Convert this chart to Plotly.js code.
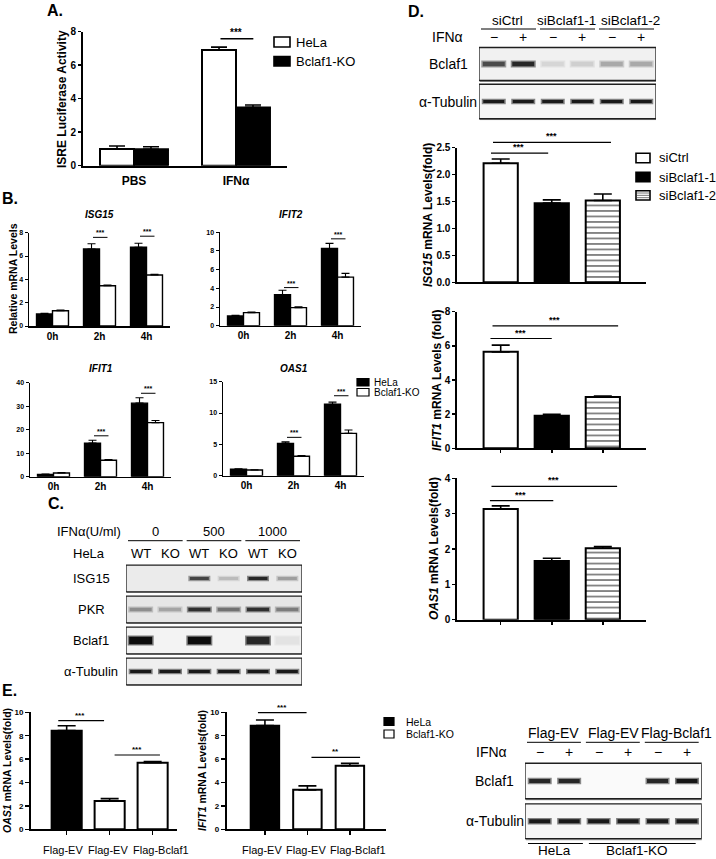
<!DOCTYPE html>
<html>
<head>
<meta charset="utf-8">
<script src="https://cdn.plot.ly/plotly-3.0.1.min.js"></script>
<style>
html,body{margin:0;padding:0;background:#ffffff;}
#fig{width:716px;height:859px;}
</style>
</head>
<body>
<div id="fig"></div>
<script>
// ===================== DATA =====================
// A. ISRE luciferase activity
const aConditions = ['PBS', 'IFNα'];
const aSeries = ['HeLa', 'Bclaf1-KO'];
const aHeLa = [1.0, 6.9];
const aHeLaErr = [0.18, 0.18];
const aKO = [0.98, 3.48];
const aKOErr = [0.15, 0.14];
const aTicks = [0, 2, 4, 6, 8];
const aSig = [{x0: 0.833, x1: 1.17, y: 7.58, label: '***'}];

// B. Relative mRNA levels over time
const bTimes = ['0h', '2h', '4h'];
const bSeries = ['HeLa', 'Bclaf1-KO'];
const bISG15_HeLa = [1.03, 6.6, 6.75];
const bISG15_HeLaErr = [0.05, 0.45, 0.35];
const bISG15_KO = [1.31, 3.45, 4.37];
const bISG15_KOErr = [0.06, 0.07, 0.06];
const bIFIT2_HeLa = [1.05, 3.32, 8.27];
const bIFIT2_HeLaErr = [0.05, 0.48, 0.55];
const bIFIT2_KO = [1.4, 1.93, 5.2];
const bIFIT2_KOErr = [0.07, 0.09, 0.4];
const bIFIT1_HeLa = [1.0, 14.3, 31.3];
const bIFIT1_HeLaErr = [0.1, 1.2, 2.3];
const bIFIT1_KO = [1.6, 7.0, 23.0];
const bIFIT1_KOErr = [0.15, 0.3, 0.9];
const bOAS1_HeLa = [1.05, 5.15, 11.4];
const bOAS1_HeLaErr = [0.05, 0.25, 0.35];
const bOAS1_KO = [0.9, 3.1, 6.75];
const bOAS1_KOErr = [0.03, 0.12, 0.55];
const bISG15_Ticks = [0, 2, 4, 6, 8];
const bIFIT2_Ticks = [0, 2, 4, 6, 8, 10];
const bIFIT1_Ticks = [0, 10, 20, 30, 40];
const bOAS1_Ticks = [0, 5, 10, 15];
const bISG15_Sig = [{cat: 1, y: 7.6, label: '***'}, {cat: 2, y: 7.7, label: '***'}];
const bIFIT2_Sig = [{cat: 1, y: 4.08, label: '***'}, {cat: 2, y: 9.3, label: '***'}];
const bIFIT1_Sig = [{cat: 1, y: 17.4, label: '***'}, {cat: 2, y: 35.5, label: '***'}];
const bOAS1_Sig = [{cat: 1, y: 6.12, label: '***'}, {cat: 2, y: 12.76, label: '***'}];

// C. Western blot, HeLa WT / KO with IFNα doses
const cDoseLabel = 'IFNα(U/ml)';
const cDoses = ['0', '500', '1000'];
const cCellLabel = 'HeLa';
const cGenotypes = ['WT', 'KO', 'WT', 'KO', 'WT', 'KO'];
const cProteins = ['ISG15', 'PKR', 'Bclaf1', 'α-Tubulin'];
const cISG15Band = [0, 0, 0.75, 0.22, 0.88, 0.35];
const cPKRBand = [0.42, 0.32, 0.85, 0.55, 0.85, 0.5];
const cBclaf1Band = [1.0, 0, 1.0, 0, 0.88, 0.04];
const cTubulinBand = [0.94, 0.94, 0.94, 0.94, 0.94, 0.94];

// D. siRNA knock-down
const dGroups = ['siCtrl', 'siBclaf1-1', 'siBclaf1-2'];
const dIFN = ['−', '+', '−', '+', '−', '+'];
const dProteins = ['Bclaf1', 'α-Tubulin'];
const dBclaf1Band = [0.72, 0.88, 0.1, 0.13, 0.3, 0.3];
const dTubulinBand = [0.94, 0.94, 0.94, 0.94, 0.94, 0.94];
const dISG15 = [2.21, 1.47, 1.52];
const dISG15Err = [0.08, 0.06, 0.12];
const dIFIT1 = [5.65, 1.9, 3.0];
const dIFIT1Err = [0.39, 0.09, 0.06];
const dOAS1 = [3.13, 1.66, 2.02];
const dOAS1Err = [0.09, 0.08, 0.05];
const dISG15Ticks = [0, 0.5, 1, 1.5, 2, 2.5];
const dIFIT1Ticks = [0, 2, 4, 6, 8];
const dOAS1Ticks = [0, 1, 2, 3, 4];
const dISG15Sig = [{x0: -0.22, x1: 0.93, y: 2.40, label: '***'}, {x0: -0.18, x1: 2.16, y: 2.60, label: '***'}];
const dIFIT1Sig = [{x0: -0.23, x1: 1.0, y: 6.43, label: '***'}, {x0: -0.19, x1: 2.3, y: 7.17, label: '***'}];
const dOAS1Sig = [{x0: -0.24, x1: 1.03, y: 3.37, label: '***'}, {x0: -0.21, x1: 2.28, y: 3.77, label: '***'}];

// E. Rescue
const eConstructs = ['Flag-EV', 'Flag-EV', 'Flag-Bclaf1'];
const eSeries = ['HeLa', 'Bclaf1-KO'];
const eOAS1 = [8.43, 2.42, 5.69];
const eOAS1Err = [0.42, 0.2, 0.09];
const eIFIT1 = [8.86, 3.37, 5.44];
const eIFIT1Err = [0.48, 0.34, 0.2];
const eTicks = [0, 2, 4, 6, 8, 10];
const eOAS1Sig = [{x0: -0.23, x1: 0.87, y: 9.28, label: '***'}, {x0: 1.08, x1: 2.17, y: 6.35, label: '***'}];
const eIFIT1Sig = [{x0: -0.2, x1: 0.98, y: 9.97, label: '***'}, {x0: 1.06, x1: 2.24, y: 6.15, label: '**'}];
const eBlotGroups = ['Flag-EV', 'Flag-EV', 'Flag-Bclaf1'];
const eIFN = ['−', '+', '−', '+', '−', '+'];
const eProteins = ['Bclaf1', 'α-Tubulin'];
const eBclaf1Band = [0.88, 0.88, 0, 0, 0.88, 0.96];
const eTubulinBand = [0.94, 0.94, 0.94, 0.94, 0.94, 0.94];
const eCellLines = ['HeLa', 'Bclaf1-KO'];

// ===================== HELPERS =====================
const FONT = "'Liberation Sans', Arial, Helvetica, sans-serif";
const W = 716, H = 859;
const PX = v => v / W;
const PY = v => 1 - v / H;
const sfx = n => (n === 1 ? '' : String(n));

const traces = [];
const layout = {
  width: W, height: H, autosize: false,
  margin: {l: 0, r: 0, t: 0, b: 0, pad: 0},
  paper_bgcolor: '#ffffff', plot_bgcolor: 'rgba(0,0,0,0)',
  showlegend: false, barmode: 'group',
  font: {family: FONT, color: '#000', size: 12},
  annotations: [], shapes: []
};

function text(x, y, t, size, extra) {
  layout.annotations.push(Object.assign({
    xref: 'paper', yref: 'paper', x: PX(x), y: PY(y), text: t, showarrow: false,
    xanchor: 'center', yanchor: 'middle', font: {family: FONT, size: size, color: '#000'}
  }, extra || {}));
}
function hline(x0, x1, y, w) {
  layout.shapes.push({type: 'line', xref: 'paper', yref: 'paper', x0: PX(x0), x1: PX(x1),
    y0: PY(y), y1: PY(y), line: {color: '#000', width: w || 1}});
}
function rectPx(x0, y0, x1, y1, fill, lw) {
  layout.shapes.push({type: 'rect', xref: 'paper', yref: 'paper', x0: PX(x0), x1: PX(x1),
    y0: PY(y1), y1: PY(y0), fillcolor: fill, line: {color: '#000', width: lw}});
}

function chartAxes(n, xPx, yPx, xRange, yRange, o) {
  const s = sfx(n);
  layout['xaxis' + s] = {
    domain: [PX(xPx[0]), PX(xPx[1])], range: xRange, anchor: 'y' + s, fixedrange: true,
    showline: true, linecolor: '#000', linewidth: o.lw, showgrid: false, zeroline: false,
    tickmode: 'array', tickvals: o.xVals || [], ticktext: o.xText || [], tickangle: 0,
    ticks: o.xTicks ? 'outside' : '', ticklen: o.tl, tickwidth: o.tw, tickcolor: '#000',
    showticklabels: !!o.xText, ticklabelstandoff: o.xStand || 0,
    tickfont: {family: FONT, size: o.xFont || 10, weight: o.xBold === false ? 'normal' : 'bold', color: '#000'}
  };
  layout['yaxis' + s] = {
    domain: [PY(yPx[1]), PY(yPx[0])], range: yRange, anchor: 'x' + s, fixedrange: true,
    showline: true, linecolor: '#000', linewidth: o.lw, showgrid: false, zeroline: false,
    tickmode: 'array', tickvals: o.yVals, ticktext: o.yVals.map(v => o.yFmt ? o.yFmt(v) : String(v)),
    ticks: 'outside', ticklen: o.tl, tickwidth: o.tw, tickcolor: '#000',
    tickfont: {family: FONT, size: o.yFont, weight: 'bold', color: '#000'}
  };
}
// invisible companion axes covering the headroom above a chart (for brackets above the top tick)
function overlayAxes(n, xPx, yBottomPx, yTopPx, yRangeTopPx, xRange, yMax) {
  const s = sfx(n);
  const scale = (yBottomPx - yRangeTopPx) / (yBottomPx - yTopPx);
  layout['xaxis' + s] = {domain: [PX(xPx[0]), PX(xPx[1])], range: xRange, visible: false, anchor: 'y' + s, fixedrange: true};
  layout['yaxis' + s] = {domain: [PY(yBottomPx), PY(yRangeTopPx)], range: [0, yMax * scale], visible: false, anchor: 'x' + s, fixedrange: true};
}

function bars(n, x, y, err, fill, offset, width, lw, capW, pattern) {
  const s = sfx(n);
  const t = {
    type: 'bar', xaxis: 'x' + s, yaxis: 'y' + s, x: x, y: y, offset: offset, width: width,
    marker: {color: fill, line: {color: '#000', width: lw}},
    error_y: {type: 'data', symmetric: false, array: err, arrayminus: err.map(() => 0),
      color: '#000', thickness: Math.max(1, lw * 0.8), width: capW},
    hoverinfo: 'skip', showlegend: false
  };
  if (pattern) t.marker.pattern = pattern;
  traces.push(t);
}

function sig(n, list, fs, lw) {
  const s = sfx(n);
  list.forEach(g => {
    layout.annotations.push({xref: 'x' + s, yref: 'y' + s, axref: 'x' + s, ayref: 'y' + s,
      x: g.x1, y: g.y, ax: g.x0, ay: g.y, text: '', showarrow: true, arrowhead: 0,
      arrowwidth: lw, arrowcolor: '#000', standoff: 0, startstandoff: 0});
    layout.annotations.push({xref: 'x' + s, yref: 'y' + s, x: (g.x0 + g.x1) / 2, y: g.y,
      text: '<b>' + g.label + '</b>', showarrow: false, xanchor: 'center', yanchor: 'bottom',
      yshift: -1, font: {family: FONT, size: fs, color: '#000'}});
  });
}

function blotAxes(n, xPx, yPx, nRows) {
  const s = sfx(n);
  layout['xaxis' + s] = {domain: [PX(xPx[0]), PX(xPx[1])], range: [0.5, 6.5], visible: false,
    anchor: 'y' + s, fixedrange: true, showgrid: false, zeroline: false};
  layout['yaxis' + s] = {domain: [PY(yPx[1]), PY(yPx[0])], range: [nRows - 0.5, -0.5], visible: false,
    anchor: 'x' + s, fixedrange: true, showgrid: false, zeroline: false};
}
function grayCore(v) { const l = Math.round(236 - v * 224); return 'rgb(' + l + ',' + l + ',' + l + ')'; }
function grayHalo(v) { const l = Math.round(238 - v * 115); return 'rgb(' + l + ',' + l + ',' + l + ')'; }
// 'line-ew' marker length is 1.4 x marker.size
const LINE_EW = 1.4;
function blotRow(n, r, vals, bandW, bandT, bg, half) {
  const s = sfx(n);
  // soft shadow on the lower-right edge of the membrane box, then the box itself
  layout.shapes.push({type: 'rect', xref: 'x' + s, yref: 'y' + s, x0: 0.53, x1: 6.53,
    y0: r - half + 0.04, y1: r + half + 0.04, fillcolor: '#9a9a9a', line: {width: 0}, layer: 'below'});
  layout.shapes.push({type: 'rect', xref: 'x' + s, yref: 'y' + s, x0: 0.5, x1: 6.5,
    y0: r - half, y1: r + half, fillcolor: bg, line: {color: '#1e1e1e', width: 1.3}, layer: 'below'});
  const xs = [], ys = [], core = [], halo = [];
  vals.forEach((v, i) => { if (v > 0) { xs.push(i + 1); ys.push(r); core.push(grayCore(v)); halo.push(grayHalo(v)); } });
  traces.push({type: 'scatter', mode: 'markers', xaxis: 'x' + s, yaxis: 'y' + s, x: xs, y: ys,
    marker: {symbol: 'line-ew', size: (bandW + 3) / LINE_EW, color: halo, line: {width: bandT + 2.5, color: halo}},
    hoverinfo: 'skip', showlegend: false});
  traces.push({type: 'scatter', mode: 'markers', xaxis: 'x' + s, yaxis: 'y' + s, x: xs, y: ys,
    marker: {symbol: 'line-ew', size: bandW / LINE_EW, color: core, line: {width: bandT, color: core}},
    hoverinfo: 'skip', showlegend: false});
}

// ===================== PANEL LABELS =====================
text(45, 10, '<b>A.</b>', 16, {xanchor: 'left'});
text(0, 198, '<b>B.</b>', 16, {xanchor: 'left'});
text(46, 504, '<b>C.</b>', 16, {xanchor: 'left'});
text(406, 11, '<b>D.</b>', 16, {xanchor: 'left'});
text(0, 690, '<b>E.</b>', 16, {xanchor: 'left'});

// ===================== PANEL A =====================
chartAxes(1, [83, 287], [31.7, 165.7], [-0.5, 1.5], [0, 8],
  {lw: 2, tl: 3, tw: 1.5, xVals: [0, 1], xText: aConditions, xFont: 12, xStand: 3, yVals: aTicks, yFont: 10});
bars(1, [0, 1], aHeLa, aHeLaErr, '#ffffff', -0.333, 0.333, 2, 8);
bars(1, [0, 1], aKO, aKOErr, '#000000', 0, 0.333, 2, 8);
sig(1, aSig, 10, 1.3);
text(62, 99, '<b>ISRE Luciferase Activity</b>', 12, {textangle: -90});
rectPx(274, 37, 290, 47, '#ffffff', 1.6);
text(294, 42, aSeries[0], 13, {xanchor: 'left'});
rectPx(274, 56.5, 290, 66, '#000000', 1.6);
text(294, 61, aSeries[1], 13, {xanchor: 'left'});

// ===================== PANEL B =====================
const bPanels = [
  {n: 2, x: [29, 170], y: [232.7, 326], max: 8, ticks: bISG15_Ticks, h: bISG15_HeLa, he: bISG15_HeLaErr, k: bISG15_KO, ke: bISG15_KOErr, sig: bISG15_Sig, gene: 'ISG15', ty: 215},
  {n: 3, x: [220, 361], y: [232.3, 325.7], max: 10, ticks: bIFIT2_Ticks, h: bIFIT2_HeLa, he: bIFIT2_HeLaErr, k: bIFIT2_KO, ke: bIFIT2_KOErr, sig: bIFIT2_Sig, gene: 'IFIT2', ty: 215},
  {n: 4, x: [30, 171], y: [382.7, 476.7], max: 40, ticks: bIFIT1_Ticks, h: bIFIT1_HeLa, he: bIFIT1_HeLaErr, k: bIFIT1_KO, ke: bIFIT1_KOErr, sig: bIFIT1_Sig, gene: 'IFIT1', ty: 368},
  {n: 5, x: [223, 364], y: [381.7, 475.7], max: 15, ticks: bOAS1_Ticks, h: bOAS1_HeLa, he: bOAS1_HeLaErr, k: bOAS1_KO, ke: bOAS1_KOErr, sig: bOAS1_Sig, gene: 'OAS1', ty: 368}
];
bPanels.forEach(p => {
  chartAxes(p.n, p.x, p.y, [-0.5, 2.5], [0, p.max],
    {lw: 1.5, tl: 3, tw: 1, xVals: [0, 1, 2], xText: bTimes, xFont: 10, yVals: p.ticks, yFont: 7});
  const xs = bTimes.map((_, i) => i);
  bars(p.n, xs, p.h, p.he, '#000000', -0.34, 0.34, 1.4, 4);
  bars(p.n, xs, p.k, p.ke, '#ffffff', 0, 0.34, 1.4, 4);
  sig(p.n, p.sig.map(g => ({x0: g.cat - 0.17, x1: g.cat + 0.17, y: g.y, label: g.label})), 7, 1);
  text((p.x[0] + p.x[1]) / 2, p.ty, '<b><i>' + p.gene + '</i></b>', 10);
});
text(13, 279, '<b>Relative mRNA Levels</b>', 10.5, {textangle: -90});
rectPx(357, 378.5, 369, 386, '#000000', 1.2);
text(372, 382.5, bSeries[0], 10, {xanchor: 'left'});
rectPx(357, 388.5, 369, 396, '#ffffff', 1.2);
text(372, 392.5, bSeries[1], 10, {xanchor: 'left'});

// ===================== PANEL C (blot) =====================
const cX = [126, 302], cLane = (cX[1] - cX[0]) / 6;
blotAxes(6, cX, [563, 687], 4);
const cRows = [cISG15Band, cPKRBand, cBclaf1Band, cTubulinBand];
const cStyle = [[19, 3, '#ebebeb'], [22, 3.5, '#e6e6e6'], [23, 7.5, '#f3f3f3'], [21, 3, '#efefef']];
cRows.forEach((vals, r) => {
  blotRow(6, r, vals, cStyle[r][0], cStyle[r][1], cStyle[r][2], 0.43);
  text(91, 563 + 31 * (r + 0.5), cProteins[r], 13);
});
text(123, 531.7, cDoseLabel, 13, {xanchor: 'right'});
cDoses.forEach((d, j) => {
  const a = cX[0] + 2 * j * cLane, b = a + 2 * cLane;
  text((a + b) / 2, 531.7, d, 13);
  hline(a + 2, b - 2, 540.7, 1);
});
text(107, 553.3, cCellLabel, 13, {xanchor: 'right'});
cGenotypes.forEach((g, i) => text(cX[0] + (i + 0.5) * cLane, 553.3, g, 13));

// ===================== PANEL D (blot) =====================
const dX = [479, 656], dLane = (dX[1] - dX[0]) / 6;
blotAxes(7, dX, [45.25, 120.25], 2);
blotRow(7, 0, dBclaf1Band, 22, 4.5, '#f1f1f1', 0.44);
blotRow(7, 1, dTubulinBand, 21, 3, '#f5f5f5', 0.46);
text(448, 64, dProteins[0], 14);
text(448, 101.5, dProteins[1], 14);
const dGroupCenters = [507, 566.5, 630];
dGroups.forEach((g, j) => {
  const a = dX[0] + 2 * j * dLane, b = a + 2 * dLane;
  text(dGroupCenters[j], 20.7, g, 13.5);
  hline(a + 2, b - 2, 29, 1);
});
text(447, 36.5, 'IFNα', 14);
dIFN.forEach((s, i) => text(dX[0] + (i + 0.5) * dLane, 36.5, s, 14));

// ===================== PANEL D (charts) =====================
const dCharts = [
  {n: 8, y: [147.7, 282.3], max: 2.5, ticks: dISG15Ticks, v: dISG15, e: dISG15Err, xt: false, fmt: v => v.toFixed(1),
   title: '<b><i>ISG15</i> mRNA Levels(fold)</b>', tx: 428},
  {n: 9, y: [311.7, 448.3], max: 8, ticks: dIFIT1Ticks, v: dIFIT1, e: dIFIT1Err, xt: true, fmt: null,
   title: '<b><i>IFIT1</i> mRNA Levels (fold)</b>', tx: 437},
  {n: 10, y: [478.3, 619.7], max: 4, ticks: dOAS1Ticks, v: dOAS1, e: dOAS1Err, xt: true, fmt: null,
   title: '<b><i>OAS1</i> mRNA Levels(fold)</b>', tx: 434}
];
const dFills = ['#ffffff', '#000000', '#ffffff'];
const dStripe = {shape: '-', fgcolor: '#444444', bgcolor: '#ffffff', size: 5.5, solidity: 0.22, fillmode: 'replace'};
const dXRange = [-0.85, 2.84], dXPx = [457.3, 645.7];
dCharts.forEach(c => {
  chartAxes(c.n, dXPx, c.y, dXRange, [0, c.max],
    {lw: 2, tl: 3, tw: 1.5, xTicks: c.xt, xVals: [0, 1, 2], yVals: c.ticks, yFont: 10, yFmt: c.fmt});
  dGroups.forEach((g, i) => bars(c.n, [i], [c.v[i]], [c.e[i]], dFills[i], -0.335, 0.67, 2, 9, i === 2 ? dStripe : null));
  text(c.tx, (c.y[0] + c.y[1]) / 2, c.title, 12, {textangle: -90});
});
// ISG15 brackets rise above the 2.5 tick: draw them on a companion axis with headroom
overlayAxes(14, dXPx, 282.3, 147.7, 128, dXRange, 2.5);
sig(14, dISG15Sig, 9, 1.2);
sig(9, dIFIT1Sig, 9, 1.2);
sig(10, dOAS1Sig, 9, 1.2);
// legend D
const dLegY = [[153.3, 162.7], [172.3, 181.7], [190.7, 200]];
dGroups.forEach((g, i) => {
  rectPx(636, dLegY[i][0], 650, dLegY[i][1], dFills[i], 1.6);
  if (i === 2) {
    [1, 2, 3].forEach(k => {
      const yy = dLegY[i][0] + k * (dLegY[i][1] - dLegY[i][0]) / 4;
      layout.shapes.push({type: 'line', xref: 'paper', yref: 'paper', x0: PX(637), x1: PX(649),
        y0: PY(yy), y1: PY(yy), line: {color: '#555', width: 0.8}});
    });
  }
  text(657, (dLegY[i][0] + dLegY[i][1]) / 2, g, 13, {xanchor: 'left'});
});

// ===================== PANEL E (charts) =====================
const eLabelPos = [-0.08, 0.96, 2.2];
function eChart(n, xPx, xRange, vals, errs, sigs, gene, titleX, barW) {
  chartAxes(n, xPx, [712.3, 829.3], xRange, [0, 10],
    {lw: 2, tl: 4, tw: 1.5, xTicks: true, xVals: [0, 1, 2], yVals: eTicks, yFont: 8});
  bars(n, [0], [vals[0]], [errs[0]], '#000000', -barW / 2, barW, 2, 9);
  bars(n, [1, 2], vals.slice(1), errs.slice(1), '#ffffff', -barW / 2, barW, 2, 9);
  sig(n, sigs, 8, 1.2);
  eConstructs.forEach((c, i) => layout.annotations.push({xref: 'x' + sfx(n), yref: 'paper',
    x: eLabelPos[i], y: PY(850), text: c, showarrow: false, xanchor: 'center', yanchor: 'middle',
    font: {family: FONT, size: 11, color: '#000'}}));
  text(titleX, 771, '<b><i>' + gene + '</i> mRNA Levels(fold)</b>', 10.5, {textangle: -90});
}
eChart(11, [31, 176.7], [-0.83, 2.56], eOAS1, eOAS1Err, eOAS1Sig, 'OAS1', 7, 0.7);
eChart(12, [226.7, 386], [-0.9, 2.85], eIFIT1, eIFIT1Err, eIFIT1Sig, 'IFIT1', 202, 0.67);

rectPx(384, 717.5, 394, 725.5, '#000000', 1.2);
text(404, 721.5, eSeries[0], 10.5, {xanchor: 'left'});
rectPx(384, 730, 394, 738, '#ffffff', 1.2);
text(404, 734, eSeries[1], 10.5, {xanchor: 'left'});

// ===================== PANEL E (blot) =====================
const eX = [525, 701.7], eLane = (eX[1] - eX[0]) / 6;
blotAxes(13, eX, [760.85, 841.45], 2);
blotRow(13, 0, eBclaf1Band, 21, 4, '#fafafa', 0.44);
blotRow(13, 1, eTubulinBand, 21, 4, '#f6f6f6', 0.43);
text(494.5, 781, eProteins[0], 14);
text(494.5, 821.3, eProteins[1], 14);
const eGroupCenters = [553.5, 613.3, 676.5];
eBlotGroups.forEach((g, j) => {
  const a = eX[0] + 2 * j * eLane, b = a + 2 * eLane;
  text(eGroupCenters[j], 732.7, g, 14);
  hline(a + 2, b - 3, 742.3, 1);
});
text(491.7, 751.7, 'IFNα', 14);
eIFN.forEach((s, i) => text(eX[0] + (i + 0.5) * eLane, 751.7, s, 14));
hline(eX[0] + 3, eX[0] + 2 * eLane - 1, 843.5, 1);
text(eX[0] + eLane, 850.5, eCellLines[0], 13.5);
hline(eX[0] + 2 * eLane + 5, eX[1] - 6, 843.5, 1);
text(eX[0] + 4 * eLane - 6, 850.5, eCellLines[1], 13.5);

Plotly.newPlot('fig', traces, layout, {staticPlot: true, displayModeBar: false});
</script>
</body>
</html>
